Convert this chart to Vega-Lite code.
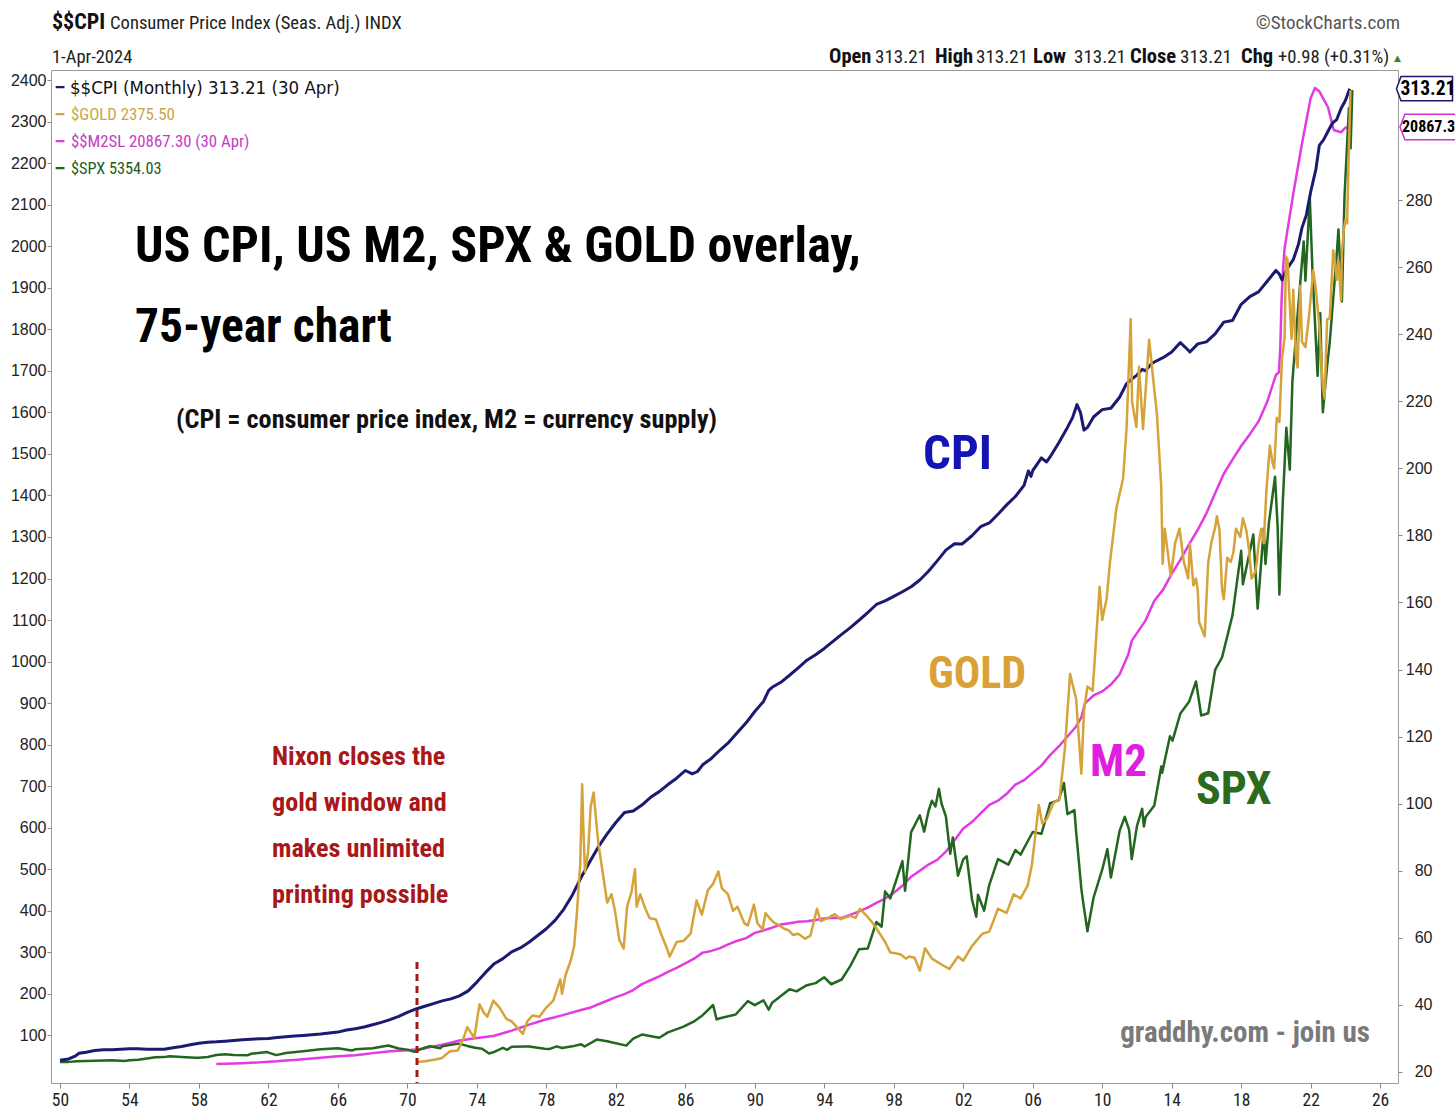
{
  "$schema": "https://vega.github.io/schema/vega-lite/v6.json",
  "width": 1347,
  "height": 1013,
  "autosize": {"type": "none"},
  "padding": {"left": 51, "top": 70, "right": 57, "bottom": 28},
  "background": "white",
  "config": {"view": {"stroke": "#9a9a9a", "strokeWidth": 1}},
  "datasets": {
    "one": [{"k": 1}],
    "cpi": [
      {"t":1950.0,"v":23.5},{"t":1950.5,"v":23.9},{"t":1950.9,"v":24.8},{"t":1951.1,"v":25.6},{"t":1951.5,"v":25.9},{"t":1952.0,"v":26.4},{"t":1952.5,"v":26.6},{"t":1953.0,"v":26.6},{"t":1953.5,"v":26.8},{"t":1954.0,"v":26.9},{"t":1954.5,"v":26.9},{"t":1955.0,"v":26.8},{"t":1955.5,"v":26.8},{"t":1956.0,"v":26.8},{"t":1956.5,"v":27.2},{"t":1957.0,"v":27.6},{"t":1957.5,"v":28.1},{"t":1958.0,"v":28.6},{"t":1958.5,"v":28.9},{"t":1959.0,"v":29.0},{"t":1959.5,"v":29.2},{"t":1960.0,"v":29.4},{"t":1960.5,"v":29.6},{"t":1961.0,"v":29.8},{"t":1961.5,"v":29.9},{"t":1962.0,"v":30.0},{"t":1962.5,"v":30.3},{"t":1963.0,"v":30.5},{"t":1963.5,"v":30.7},{"t":1964.0,"v":30.9},{"t":1964.5,"v":31.1},{"t":1965.0,"v":31.3},{"t":1965.5,"v":31.6},{"t":1966.0,"v":31.9},{"t":1966.5,"v":32.5},{"t":1967.0,"v":32.9},{"t":1967.5,"v":33.4},{"t":1968.0,"v":34.1},{"t":1968.5,"v":34.8},{"t":1969.0,"v":35.6},{"t":1969.5,"v":36.6},{"t":1970.0,"v":37.8},{"t":1970.5,"v":38.8},{"t":1971.0,"v":39.6},{"t":1971.5,"v":40.4},{"t":1972.0,"v":41.2},{"t":1972.5,"v":41.8},{"t":1973.0,"v":42.7},{"t":1973.5,"v":44.2},{"t":1974.0,"v":46.8},{"t":1974.5,"v":49.7},{"t":1975.0,"v":52.3},{"t":1975.5,"v":53.8},{"t":1976.0,"v":55.8},{"t":1976.5,"v":57.0},{"t":1977.0,"v":58.7},{"t":1977.5,"v":60.7},{"t":1978.0,"v":62.7},{"t":1978.5,"v":65.2},{"t":1979.0,"v":68.5},{"t":1979.5,"v":72.8},{"t":1980.0,"v":78.0},{"t":1980.5,"v":82.7},{"t":1981.0,"v":87.2},{"t":1981.5,"v":91.0},{"t":1982.0,"v":94.4},{"t":1982.5,"v":97.4},{"t":1983.0,"v":97.8},{"t":1983.5,"v":99.6},{"t":1984.0,"v":101.9},{"t":1984.5,"v":103.6},{"t":1985.0,"v":105.7},{"t":1985.5,"v":107.6},{"t":1986.0,"v":109.9},{"t":1986.4,"v":108.9},{"t":1986.7,"v":109.6},{"t":1987.0,"v":111.6},{"t":1987.5,"v":113.5},{"t":1988.0,"v":116.0},{"t":1988.5,"v":118.3},{"t":1989.0,"v":121.2},{"t":1989.5,"v":124.1},{"t":1990.0,"v":127.5},{"t":1990.5,"v":130.5},{"t":1990.8,"v":133.8},{"t":1991.0,"v":134.7},{"t":1991.5,"v":136.2},{"t":1992.0,"v":138.3},{"t":1992.5,"v":140.5},{"t":1993.0,"v":142.8},{"t":1993.5,"v":144.4},{"t":1994.0,"v":146.3},{"t":1994.5,"v":148.4},{"t":1995.0,"v":150.5},{"t":1995.5,"v":152.5},{"t":1996.0,"v":154.7},{"t":1996.5,"v":157.0},{"t":1997.0,"v":159.4},{"t":1997.5,"v":160.5},{"t":1998.0,"v":161.8},{"t":1998.5,"v":163.2},{"t":1999.0,"v":164.7},{"t":1999.5,"v":166.7},{"t":2000.0,"v":169.3},{"t":2000.5,"v":172.4},{"t":2001.0,"v":175.6},{"t":2001.5,"v":177.5},{"t":2001.9,"v":177.4},{"t":2002.0,"v":177.7},{"t":2002.5,"v":179.9},{"t":2003.0,"v":182.6},{"t":2003.5,"v":183.7},{"t":2004.0,"v":186.3},{"t":2004.5,"v":189.1},{"t":2005.0,"v":191.6},{"t":2005.5,"v":194.9},{"t":2005.75,"v":199.2},{"t":2005.9,"v":197.6},{"t":2006.0,"v":199.3},{"t":2006.5,"v":203.1},{"t":2006.8,"v":201.9},{"t":2007.0,"v":203.4},{"t":2007.5,"v":207.6},{"t":2008.0,"v":212.2},{"t":2008.3,"v":215.2},{"t":2008.55,"v":219.0},{"t":2008.75,"v":216.6},{"t":2008.95,"v":211.4},{"t":2009.15,"v":212.2},{"t":2009.5,"v":215.3},{"t":2010.0,"v":217.5},{"t":2010.5,"v":217.9},{"t":2011.0,"v":221.2},{"t":2011.4,"v":225.2},{"t":2011.7,"v":226.6},{"t":2012.0,"v":227.8},{"t":2012.3,"v":229.5},{"t":2012.5,"v":229.1},{"t":2012.8,"v":231.0},{"t":2013.0,"v":231.7},{"t":2013.5,"v":233.0},{"t":2014.0,"v":234.7},{"t":2014.5,"v":237.5},{"t":2014.9,"v":235.5},{"t":2015.05,"v":234.7},{"t":2015.5,"v":237.1},{"t":2016.0,"v":237.7},{"t":2016.5,"v":240.1},{"t":2017.0,"v":243.6},{"t":2017.5,"v":244.1},{"t":2018.0,"v":248.9},{"t":2018.5,"v":251.2},{"t":2019.0,"v":252.6},{"t":2019.5,"v":255.8},{"t":2020.0,"v":259.0},{"t":2020.2,"v":257.9},{"t":2020.35,"v":256.2},{"t":2020.6,"v":259.2},{"t":2021.0,"v":262.2},{"t":2021.3,"v":266.8},{"t":2021.5,"v":271.7},{"t":2021.75,"v":275.5},{"t":2022.0,"v":282.4},{"t":2022.3,"v":289.1},{"t":2022.5,"v":296.3},{"t":2022.75,"v":298.0},{"t":2023.0,"v":300.5},{"t":2023.25,"v":302.9},{"t":2023.5,"v":304.0},{"t":2023.75,"v":307.3},{"t":2024.0,"v":309.7},{"t":2024.25,"v":313.2}
    ],
    "m2": [
      {"t":1959.0,"v":286.6},{"t":1959.5,"v":294},{"t":1960.0,"v":298},{"t":1960.5,"v":304},{"t":1961.0,"v":312},{"t":1961.5,"v":322},{"t":1962.0,"v":335},{"t":1962.5,"v":346},{"t":1963.0,"v":362},{"t":1963.5,"v":376},{"t":1964.0,"v":393},{"t":1964.5,"v":407},{"t":1965.0,"v":424},{"t":1965.5,"v":440},{"t":1966.0,"v":459},{"t":1966.5,"v":470},{"t":1967.0,"v":481},{"t":1967.5,"v":503},{"t":1968.0,"v":525},{"t":1968.5,"v":546},{"t":1969.0,"v":568},{"t":1969.5,"v":580},{"t":1970.0,"v":587},{"t":1970.5,"v":604},{"t":1971.0,"v":628},{"t":1971.5,"v":673},{"t":1972.0,"v":710},{"t":1972.5,"v":755},{"t":1973.0,"v":802},{"t":1973.5,"v":830},{"t":1974.0,"v":856},{"t":1974.5,"v":880},{"t":1975.0,"v":908},{"t":1975.5,"v":962},{"t":1976.0,"v":1019},{"t":1976.5,"v":1083},{"t":1977.0,"v":1150},{"t":1977.5,"v":1210},{"t":1978.0,"v":1270},{"t":1978.5,"v":1315},{"t":1979.0,"v":1366},{"t":1979.5,"v":1420},{"t":1980.0,"v":1473},{"t":1980.5,"v":1520},{"t":1981.0,"v":1599},{"t":1981.5,"v":1675},{"t":1982.0,"v":1756},{"t":1982.5,"v":1820},{"t":1983.0,"v":1911},{"t":1983.5,"v":2040},{"t":1984.0,"v":2126},{"t":1984.5,"v":2210},{"t":1985.0,"v":2310},{"t":1985.5,"v":2400},{"t":1986.0,"v":2497},{"t":1986.5,"v":2600},{"t":1987.0,"v":2732},{"t":1987.5,"v":2770},{"t":1988.0,"v":2832},{"t":1988.5,"v":2920},{"t":1989.0,"v":2993},{"t":1989.5,"v":3050},{"t":1990.0,"v":3166},{"t":1990.5,"v":3220},{"t":1991.0,"v":3280},{"t":1991.5,"v":3350},{"t":1992.0,"v":3380},{"t":1992.5,"v":3410},{"t":1993.0,"v":3424},{"t":1993.5,"v":3450},{"t":1994.0,"v":3480},{"t":1994.5,"v":3500},{"t":1995.0,"v":3493},{"t":1995.5,"v":3560},{"t":1996.0,"v":3640},{"t":1996.5,"v":3720},{"t":1997.0,"v":3825},{"t":1997.5,"v":3920},{"t":1998.0,"v":4045},{"t":1998.5,"v":4200},{"t":1999.0,"v":4400},{"t":1999.5,"v":4530},{"t":2000.0,"v":4667},{"t":2000.5,"v":4770},{"t":2001.0,"v":4950},{"t":2001.5,"v":5200},{"t":2002.0,"v":5460},{"t":2002.5,"v":5600},{"t":2003.0,"v":5790},{"t":2003.5,"v":5980},{"t":2004.0,"v":6070},{"t":2004.5,"v":6220},{"t":2005.0,"v":6420},{"t":2005.5,"v":6520},{"t":2006.0,"v":6680},{"t":2006.5,"v":6840},{"t":2007.0,"v":7070},{"t":2007.5,"v":7260},{"t":2008.0,"v":7480},{"t":2008.5,"v":7700},{"t":2008.8,"v":7900},{"t":2009.0,"v":8200},{"t":2009.5,"v":8380},{"t":2010.0,"v":8470},{"t":2010.5,"v":8620},{"t":2011.0,"v":8840},{"t":2011.5,"v":9280},{"t":2011.7,"v":9580},{"t":2012.0,"v":9750},{"t":2012.5,"v":10030},{"t":2013.0,"v":10460},{"t":2013.5,"v":10700},{"t":2014.0,"v":11050},{"t":2014.5,"v":11360},{"t":2015.0,"v":11700},{"t":2015.5,"v":12020},{"t":2016.0,"v":12380},{"t":2016.5,"v":12820},{"t":2017.0,"v":13250},{"t":2017.5,"v":13560},{"t":2018.0,"v":13860},{"t":2018.5,"v":14120},{"t":2019.0,"v":14400},{"t":2019.5,"v":14830},{"t":2020.0,"v":15420},{"t":2020.17,"v":15480},{"t":2020.25,"v":16000},{"t":2020.33,"v":17100},{"t":2020.42,"v":17800},{"t":2020.5,"v":18200},{"t":2021.0,"v":19400},{"t":2021.5,"v":20500},{"t":2022.0,"v":21500},{"t":2022.25,"v":21720},{"t":2022.5,"v":21650},{"t":2023.0,"v":21300},{"t":2023.33,"v":20800},{"t":2023.75,"v":20750},{"t":2024.0,"v":20850},{"t":2024.29,"v":20867}
    ],
    "spx": [
      {"t":1950.0,"v":17.0},{"t":1950.5,"v":17.7},{"t":1951.0,"v":21.7},{"t":1952.0,"v":24.1},{"t":1953.0,"v":26.4},{"t":1953.7,"v":23.0},{"t":1954.0,"v":26.1},{"t":1954.5,"v":29},{"t":1955.0,"v":36.6},{"t":1955.5,"v":43},{"t":1956.0,"v":43.8},{"t":1956.3,"v":48},{"t":1957.0,"v":44},{"t":1957.8,"v":40},{"t":1958.0,"v":41},{"t":1958.5,"v":45},{"t":1959.0,"v":55.4},{"t":1959.5,"v":59},{"t":1960.0,"v":55.6},{"t":1960.8,"v":54},{"t":1961.0,"v":61.8},{"t":1961.9,"v":71.6},{"t":1962.0,"v":68.8},{"t":1962.45,"v":54.8},{"t":1963.0,"v":66.2},{"t":1964.0,"v":76.5},{"t":1965.0,"v":87.6},{"t":1966.0,"v":92.9},{"t":1966.8,"v":80},{"t":1967.0,"v":86.6},{"t":1968.0,"v":92.2},{"t":1968.9,"v":108},{"t":1969.5,"v":91},{"t":1970.0,"v":85},{"t":1970.4,"v":72.7},{"t":1971.0,"v":95.9},{"t":1971.3,"v":104},{"t":1971.9,"v":93},{"t":1972.0,"v":103},{"t":1972.95,"v":118},{"t":1973.5,"v":104},{"t":1973.9,"v":95},{"t":1974.3,"v":90},{"t":1974.7,"v":64},{"t":1975.0,"v":72.6},{"t":1975.5,"v":95},{"t":1975.75,"v":83.9},{"t":1976.0,"v":100.9},{"t":1976.8,"v":102},{"t":1977.0,"v":102},{"t":1977.9,"v":90},{"t":1978.2,"v":89},{"t":1978.6,"v":103},{"t":1978.9,"v":94},{"t":1979.5,"v":103},{"t":1980.0,"v":114},{"t":1980.2,"v":102},{"t":1980.9,"v":140},{"t":1981.5,"v":131},{"t":1982.6,"v":107},{"t":1983.0,"v":145},{"t":1983.5,"v":168},{"t":1984.5,"v":150},{"t":1985.0,"v":180},{"t":1985.9,"v":211},{"t":1986.5,"v":240},{"t":1987.0,"v":274},{"t":1987.6,"v":330},{"t":1987.8,"v":251},{"t":1988.0,"v":257},{"t":1988.9,"v":278},{"t":1989.6,"v":351},{"t":1990.0,"v":329},{"t":1990.5,"v":356},{"t":1990.8,"v":304},{"t":1991.0,"v":343},{"t":1991.5,"v":380},{"t":1992.0,"v":417},{"t":1992.4,"v":405},{"t":1993.0,"v":439},{"t":1993.5,"v":450},{"t":1994.0,"v":482},{"t":1994.4,"v":444},{"t":1995.0,"v":470},{"t":1995.5,"v":545},{"t":1996.0,"v":636},{"t":1996.5,"v":640},{"t":1997.0,"v":786},{"t":1997.3,"v":760},{"t":1997.5,"v":954},{"t":1997.8,"v":915},{"t":1998.5,"v":1120},{"t":1998.65,"v":957},{"t":1999.0,"v":1279},{"t":1999.5,"v":1372},{"t":1999.75,"v":1282},{"t":2000.0,"v":1394},{"t":2000.2,"v":1452},{"t":2000.4,"v":1420},{"t":2000.6,"v":1517},{"t":2000.75,"v":1436},{"t":2001.0,"v":1366},{"t":2001.25,"v":1160},{"t":2001.4,"v":1250},{"t":2001.7,"v":1040},{"t":2002.0,"v":1130},{"t":2002.2,"v":1147},{"t":2002.5,"v":911},{"t":2002.75,"v":815},{"t":2002.85,"v":936},{"t":2003.2,"v":848},{"t":2003.5,"v":990},{"t":2004.0,"v":1131},{"t":2004.6,"v":1101},{"t":2005.0,"v":1181},{"t":2005.3,"v":1156},{"t":2006.0,"v":1280},{"t":2006.5,"v":1270},{"t":2007.0,"v":1438},{"t":2007.5,"v":1455},{"t":2007.8,"v":1549},{"t":2008.0,"v":1378},{"t":2008.4,"v":1400},{"t":2008.5,"v":1280},{"t":2008.8,"v":968},{"t":2008.9,"v":896},{"t":2009.15,"v":735},{"t":2009.5,"v":919},{"t":2010.0,"v":1073},{"t":2010.3,"v":1186},{"t":2010.5,"v":1030},{"t":2011.0,"v":1286},{"t":2011.3,"v":1363},{"t":2011.55,"v":1292},{"t":2011.7,"v":1131},{"t":2012.0,"v":1312},{"t":2012.3,"v":1408},{"t":2012.4,"v":1310},{"t":2012.5,"v":1362},{"t":2013.0,"v":1426},{"t":2013.4,"v":1640},{"t":2013.45,"v":1606},{"t":2013.9,"v":1806},{"t":2014.05,"v":1782},{"t":2014.5,"v":1931},{"t":2015.0,"v":1995},{"t":2015.4,"v":2107},{"t":2015.7,"v":1920},{"t":2016.1,"v":1932},{"t":2016.5,"v":2170},{"t":2016.9,"v":2239},{"t":2017.5,"v":2470},{"t":2018.0,"v":2824},{"t":2018.1,"v":2640},{"t":2018.7,"v":2914},{"t":2018.95,"v":2507},{"t":2019.3,"v":2945},{"t":2019.4,"v":2752},{"t":2019.6,"v":2980},{"t":2019.95,"v":3231},{"t":2020.1,"v":2954},{"t":2020.2,"v":2584},{"t":2020.4,"v":3100},{"t":2020.6,"v":3500},{"t":2020.8,"v":3270},{"t":2020.95,"v":3756},{"t":2021.3,"v":4180},{"t":2021.6,"v":4523},{"t":2021.7,"v":4307},{"t":2021.95,"v":4766},{"t":2022.1,"v":4374},{"t":2022.4,"v":3785},{"t":2022.55,"v":4130},{"t":2022.7,"v":3585},{"t":2022.95,"v":3840},{"t":2023.1,"v":3970},{"t":2023.5,"v":4450},{"t":2023.6,"v":4589},{"t":2023.8,"v":4194},{"t":2023.95,"v":4770},{"t":2024.2,"v":5254},{"t":2024.3,"v":5035},{"t":2024.4,"v":5354}
    ],
    "gold": [
      {"t":1970.5,"v":36},{"t":1971.0,"v":38},{"t":1971.6,"v":42},{"t":1972.0,"v":46},{"t":1972.45,"v":62},{"t":1972.9,"v":64},{"t":1973.2,"v":90},{"t":1973.45,"v":120},{"t":1973.85,"v":94},{"t":1974.15,"v":175},{"t":1974.4,"v":155},{"t":1974.6,"v":145},{"t":1974.95,"v":184},{"t":1975.3,"v":167},{"t":1975.7,"v":140},{"t":1976.0,"v":134},{"t":1976.65,"v":104},{"t":1976.9,"v":134},{"t":1977.2,"v":148},{"t":1977.6,"v":145},{"t":1977.95,"v":165},{"t":1978.4,"v":184},{"t":1978.8,"v":235},{"t":1978.9,"v":200},{"t":1979.1,"v":245},{"t":1979.4,"v":280},{"t":1979.6,"v":315},{"t":1979.75,"v":390},{"t":1979.95,"v":512},{"t":1980.06,"v":705},{"t":1980.13,"v":600},{"t":1980.22,"v":494},{"t":1980.4,"v":540},{"t":1980.55,"v":650},{"t":1980.72,"v":685},{"t":1980.85,"v":625},{"t":1981.0,"v":560},{"t":1981.2,"v":505},{"t":1981.5,"v":420},{"t":1981.75,"v":440},{"t":1981.95,"v":400},{"t":1982.2,"v":330},{"t":1982.45,"v":309},{"t":1982.65,"v":410},{"t":1982.9,"v":445},{"t":1983.1,"v":500},{"t":1983.2,"v":410},{"t":1983.4,"v":440},{"t":1983.7,"v":405},{"t":1983.95,"v":382},{"t":1984.3,"v":380},{"t":1984.6,"v":345},{"t":1984.95,"v":309},{"t":1985.1,"v":290},{"t":1985.5,"v":325},{"t":1985.9,"v":328},{"t":1986.3,"v":345},{"t":1986.65,"v":425},{"t":1986.95,"v":391},{"t":1987.3,"v":450},{"t":1987.6,"v":465},{"t":1987.9,"v":495},{"t":1988.1,"v":455},{"t":1988.45,"v":440},{"t":1988.75,"v":400},{"t":1989.0,"v":410},{"t":1989.4,"v":370},{"t":1989.6,"v":365},{"t":1989.95,"v":415},{"t":1990.15,"v":370},{"t":1990.45,"v":355},{"t":1990.62,"v":395},{"t":1990.9,"v":380},{"t":1991.1,"v":372},{"t":1991.4,"v":365},{"t":1991.7,"v":357},{"t":1991.95,"v":353},{"t":1992.2,"v":342},{"t":1992.5,"v":345},{"t":1992.9,"v":333},{"t":1993.2,"v":340},{"t":1993.58,"v":405},{"t":1993.8,"v":375},{"t":1994.3,"v":385},{"t":1994.6,"v":392},{"t":1994.95,"v":380},{"t":1995.2,"v":384},{"t":1995.5,"v":388},{"t":1995.8,"v":383},{"t":1996.05,"v":405},{"t":1996.4,"v":390},{"t":1996.8,"v":370},{"t":1997.2,"v":345},{"t":1997.5,"v":325},{"t":1997.8,"v":300},{"t":1998.1,"v":298},{"t":1998.4,"v":295},{"t":1998.7,"v":285},{"t":1998.9,"v":290},{"t":1999.2,"v":287},{"t":1999.5,"v":256},{"t":1999.8,"v":310},{"t":2000.2,"v":285},{"t":2000.7,"v":272},{"t":2001.2,"v":260},{"t":2001.7,"v":290},{"t":2002.0,"v":280},{"t":2002.5,"v":315},{"t":2003.1,"v":345},{"t":2003.5,"v":350},{"t":2004.0,"v":405},{"t":2004.5,"v":395},{"t":2004.9,"v":440},{"t":2005.3,"v":430},{"t":2005.7,"v":460},{"t":2005.95,"v":510},{"t":2006.35,"v":655},{"t":2006.55,"v":610},{"t":2006.8,"v":620},{"t":2007.2,"v":660},{"t":2007.55,"v":670},{"t":2007.85,"v":790},{"t":2008.15,"v":970},{"t":2008.5,"v":910},{"t":2008.8,"v":730},{"t":2008.95,"v":880},{"t":2009.15,"v":940},{"t":2009.45,"v":930},{"t":2009.85,"v":1180},{"t":2010.0,"v":1100},{"t":2010.25,"v":1150},{"t":2010.45,"v":1240},{"t":2010.82,"v":1370},{"t":2011.2,"v":1440},{"t":2011.4,"v":1560},{"t":2011.64,"v":1825},{"t":2011.72,"v":1625},{"t":2011.97,"v":1565},{"t":2012.12,"v":1710},{"t":2012.35,"v":1560},{"t":2012.7,"v":1775},{"t":2012.95,"v":1675},{"t":2013.15,"v":1595},{"t":2013.4,"v":1420},{"t":2013.48,"v":1235},{"t":2013.6,"v":1320},{"t":2013.95,"v":1205},{"t":2014.2,"v":1285},{"t":2014.45,"v":1320},{"t":2014.7,"v":1240},{"t":2014.95,"v":1200},{"t":2015.05,"v":1283},{"t":2015.25,"v":1183},{"t":2015.4,"v":1200},{"t":2015.5,"v":1172},{"t":2015.58,"v":1095},{"t":2015.9,"v":1061},{"t":2016.1,"v":1237},{"t":2016.3,"v":1290},{"t":2016.5,"v":1322},{"t":2016.6,"v":1350},{"t":2016.75,"v":1318},{"t":2016.9,"v":1173},{"t":2017.0,"v":1150},{"t":2017.2,"v":1250},{"t":2017.4,"v":1240},{"t":2017.55,"v":1262},{"t":2017.7,"v":1320},{"t":2017.95,"v":1300},{"t":2018.1,"v":1345},{"t":2018.3,"v":1315},{"t":2018.45,"v":1270},{"t":2018.6,"v":1200},{"t":2018.8,"v":1215},{"t":2018.9,"v":1240},{"t":2019.0,"v":1282},{"t":2019.15,"v":1320},{"t":2019.3,"v":1285},{"t":2019.45,"v":1410},{"t":2019.65,"v":1520},{"t":2019.8,"v":1480},{"t":2019.9,"v":1465},{"t":2020.05,"v":1587},{"t":2020.2,"v":1577},{"t":2020.35,"v":1730},{"t":2020.5,"v":1780},{"t":2020.58,"v":1975},{"t":2020.67,"v":1968},{"t":2020.9,"v":1777},{"t":2021.0,"v":1895},{"t":2021.15,"v":1733},{"t":2021.25,"v":1708},{"t":2021.4,"v":1905},{"t":2021.5,"v":1770},{"t":2021.7,"v":1757},{"t":2021.9,"v":1829},{"t":2022.15,"v":1942},{"t":2022.3,"v":1897},{"t":2022.5,"v":1807},{"t":2022.7,"v":1660},{"t":2022.8,"v":1633},{"t":2022.95,"v":1824},{"t":2023.1,"v":1827},{"t":2023.3,"v":1990},{"t":2023.4,"v":1963},{"t":2023.5,"v":1919},{"t":2023.6,"v":1965},{"t":2023.75,"v":1870},{"t":2023.8,"v":1983},{"t":2023.9,"v":2036},{"t":2024.0,"v":2063},{"t":2024.1,"v":2055},{"t":2024.2,"v":2230},{"t":2024.29,"v":2375}
    ]
  },
  "layer": [
    {
      "data": {"name": "m2"},
      "mark": {"type": "line", "color": "#e23be2", "strokeWidth": 2.5, "strokeJoin": "round"},
      "encoding": {
        "x": {"field": "t", "type": "quantitative", "scale": {"domain": [1949.482, 2027.029], "nice": false, "zero": false},
          "axis": {"values": [1950,1952,1954,1956,1958,1960,1962,1964,1966,1968,1970,1972,1974,1976,1978,1980,1982,1984,1986,1988,1990,1992,1994,1996,1998,2000,2002,2004,2006,2008,2010,2012,2014,2016,2018,2020,2022,2024,2026],
            "format": "d", "labelExpr": "substring(datum.label, 2)", "title": null, "grid": false, "domain": false, "tickSize": 5, "tickColor": "#888888",
            "labelFont": "Roboto Condensed, DejaVu Sans Condensed, sans-serif", "labelFontSize": 17.5, "labelColor": "#222222", "labelPadding": 3}},
        "y": {"field": "v", "type": "quantitative", "scale": {"domain": [-131, 22118], "nice": false, "zero": false}, "axis": null}
      }
    },
    {
      "data": {"name": "spx"},
      "mark": {"type": "line", "color": "#22661f", "strokeWidth": 2.5, "strokeJoin": "round"},
      "encoding": {
        "x": {"field": "t", "type": "quantitative"},
        "y": {"field": "v", "type": "quantitative", "scale": {"domain": [-98.3, 5464.6], "nice": false, "zero": false}, "axis": null}
      }
    },
    {
      "data": {"name": "cpi"},
      "mark": {"type": "line", "color": "#1a1a70", "strokeWidth": 3, "strokeJoin": "round"},
      "encoding": {
        "x": {"field": "t", "type": "quantitative"},
        "y": {"field": "v", "type": "quantitative", "scale": {"domain": [16.72, 318.77], "nice": false, "zero": false},
          "axis": {"orient": "right", "values": [20,40,60,80,100,120,140,160,180,200,220,240,260,280], "format": "d", "title": null, "grid": false, "domain": false, "tickSize": 4, "tickColor": "#888888", "labelFont": "Liberation Sans, Arial, sans-serif", "labelFontSize": 16, "labelColor": "#222222", "labelAlign": "right", "labelPadding": 30}}
      }
    },
    {
      "data": {"name": "gold"},
      "mark": {"type": "line", "color": "#d6a23a", "strokeWidth": 2.5, "strokeJoin": "round"},
      "encoding": {
        "x": {"field": "t", "type": "quantitative"},
        "y": {"field": "v", "type": "quantitative", "scale": {"domain": [-14.4, 2424.2], "nice": false, "zero": false},
          "axis": {"orient": "left", "values": [100,200,300,400,500,600,700,800,900,1000,1100,1200,1300,1400,1500,1600,1700,1800,1900,2000,2100,2200,2300,2400], "format": "d", "title": null, "grid": false, "domain": false, "tickSize": 4, "tickColor": "#888888", "labelFont": "Liberation Sans, Arial, sans-serif", "labelFontSize": 16, "labelColor": "#222222", "labelPadding": 1}}
      }
    },
    {
      "data": {"name": "one"},
      "mark": {"type": "point", "shape": "M -1 0 L -0.84 -0.41 L 1 -0.41 L 1 0.41 L -0.84 0.41 Z", "size": 3844, "filled": true, "fill": "#ffffff", "stroke": "#d030d0", "strokeWidth": 1.5, "opacity": 1, "clip": false},
      "encoding": {"x": {"datum": 2028.929}, "y": {"datum": 20867.3, "scale": {"domain": [-131, 22118], "nice": false, "zero": false}, "axis": null}}
    },
    {
      "data": {"name": "one"},
      "mark": {"type": "text", "text": "20867.3", "align": "left", "baseline": "middle", "font": "Roboto Condensed, Liberation Sans, sans-serif", "fontSize": 16, "fontWeight": "bold", "color": "#000000", "clip": false},
      "encoding": {"x": {"datum": 2027.26}, "y": {"datum": 20867.3, "scale": {"domain": [-131, 22118], "nice": false, "zero": false}, "axis": null}}
    },
    {
      "data": {"name": "one"},
      "mark": {"type": "point", "shape": "M -1 0 L -0.84 -0.43 L 1 -0.43 L 1 0.43 L -0.84 0.43 Z", "size": 3136, "filled": true, "fill": "#ffffff", "stroke": "#1a1a70", "strokeWidth": 1.5, "opacity": 1, "clip": false},
      "encoding": {"x": {"datum": 2028.555}, "y": {"datum": 313.21, "scale": {"domain": [16.72, 318.77], "nice": false, "zero": false}, "axis": null}}
    },
    {
      "data": {"name": "one"},
      "mark": {"type": "text", "text": "313.21", "align": "center", "baseline": "middle", "font": "Roboto Condensed, Liberation Sans, sans-serif", "fontSize": 19.5, "fontWeight": "bold", "color": "#000000", "clip": false},
      "encoding": {"x": {"datum": 2028.75}, "y": {"datum": 313.21, "scale": {"domain": [16.72, 318.77], "nice": false, "zero": false}, "axis": null}}
    },
    {
      "data": {"name": "one"},
      "mark": {"type": "rule", "color": "#a01c1c", "strokeWidth": 3, "strokeDash": [7, 5]},
      "encoding": {"x": {"datum": 1970.553}, "y": {"datum": 276.8, "scale": {"domain": [-14.4, 2424.2], "nice": false, "zero": false}, "axis": null}, "y2": {"datum": -14.4}}
    },
    {
      "data": {"name": "one"},
      "mark": {"type": "text", "text": "$$CPI", "align": "left", "baseline": "middle", "font": "Roboto Condensed, Liberation Sans, sans-serif", "fontSize": 22, "fontWeight": "bold", "color": "#111111", "clip": false},
      "encoding": {"x": {"datum": 1949.539}, "y": {"datum": 2539.7, "scale": {"domain": [-14.4, 2424.2], "nice": false, "zero": false}, "axis": null}}
    },
    {
      "data": {"name": "one"},
      "mark": {"type": "text", "text": "Consumer Price Index (Seas. Adj.) INDX", "align": "left", "baseline": "middle", "font": "Roboto Condensed, Liberation Sans, sans-serif", "fontSize": 18.6, "color": "#222222", "clip": false},
      "encoding": {"x": {"datum": 1952.879}, "y": {"datum": 2537, "scale": {"domain": [-14.4, 2424.2], "nice": false, "zero": false}, "axis": null}}
    },
    {
      "data": {"name": "one"},
      "mark": {"type": "text", "text": "©StockCharts.com", "align": "right", "baseline": "middle", "font": "Roboto Condensed, Liberation Sans, sans-serif", "fontSize": 19, "color": "#555555", "clip": false},
      "encoding": {"x": {"datum": 2027.145}, "y": {"datum": 2537, "scale": {"domain": [-14.4, 2424.2], "nice": false, "zero": false}, "axis": null}}
    },
    {
      "data": {"name": "one"},
      "mark": {"type": "text", "text": "1-Apr-2024", "align": "left", "baseline": "middle", "font": "Roboto Condensed, Liberation Sans, sans-serif", "fontSize": 18.5, "color": "#222222", "clip": false},
      "encoding": {"x": {"datum": 1949.539}, "y": {"datum": 2455.5, "scale": {"domain": [-14.4, 2424.2], "nice": false, "zero": false}, "axis": null}}
    },
    {
      "data": {"name": "one"},
      "mark": {"type": "text", "text": "Open", "align": "left", "baseline": "middle", "font": "Roboto Condensed, Liberation Sans, sans-serif", "fontSize": 20.5, "fontWeight": "bold", "color": "#111111", "clip": false},
      "encoding": {"x": {"datum": 1994.272}, "y": {"datum": 2455.5, "scale": {"domain": [-14.4, 2424.2], "nice": false, "zero": false}, "axis": null}}
    },
    {
      "data": {"name": "one"},
      "mark": {"type": "text", "text": "313.21", "align": "left", "baseline": "middle", "font": "Roboto Condensed, Liberation Sans, sans-serif", "fontSize": 19, "color": "#222222", "clip": false},
      "encoding": {"x": {"datum": 1996.92}, "y": {"datum": 2455.5, "scale": {"domain": [-14.4, 2424.2], "nice": false, "zero": false}, "axis": null}}
    },
    {
      "data": {"name": "one"},
      "mark": {"type": "text", "text": "High", "align": "left", "baseline": "middle", "font": "Roboto Condensed, Liberation Sans, sans-serif", "fontSize": 20.5, "fontWeight": "bold", "color": "#111111", "clip": false},
      "encoding": {"x": {"datum": 2000.374}, "y": {"datum": 2455.5, "scale": {"domain": [-14.4, 2424.2], "nice": false, "zero": false}, "axis": null}}
    },
    {
      "data": {"name": "one"},
      "mark": {"type": "text", "text": "313.21", "align": "left", "baseline": "middle", "font": "Roboto Condensed, Liberation Sans, sans-serif", "fontSize": 19, "color": "#222222", "clip": false},
      "encoding": {"x": {"datum": 2002.735}, "y": {"datum": 2455.5, "scale": {"domain": [-14.4, 2424.2], "nice": false, "zero": false}, "axis": null}}
    },
    {
      "data": {"name": "one"},
      "mark": {"type": "text", "text": "Low", "align": "left", "baseline": "middle", "font": "Roboto Condensed, Liberation Sans, sans-serif", "fontSize": 20.5, "fontWeight": "bold", "color": "#111111", "clip": false},
      "encoding": {"x": {"datum": 2006.02}, "y": {"datum": 2455.5, "scale": {"domain": [-14.4, 2424.2], "nice": false, "zero": false}, "axis": null}}
    },
    {
      "data": {"name": "one"},
      "mark": {"type": "text", "text": "313.21", "align": "left", "baseline": "middle", "font": "Roboto Condensed, Liberation Sans, sans-serif", "fontSize": 19, "color": "#222222", "clip": false},
      "encoding": {"x": {"datum": 2008.377}, "y": {"datum": 2455.5, "scale": {"domain": [-14.4, 2424.2], "nice": false, "zero": false}, "axis": null}}
    },
    {
      "data": {"name": "one"},
      "mark": {"type": "text", "text": "Close", "align": "left", "baseline": "middle", "font": "Roboto Condensed, Liberation Sans, sans-serif", "fontSize": 20.5, "fontWeight": "bold", "color": "#111111", "clip": false},
      "encoding": {"x": {"datum": 2011.6}, "y": {"datum": 2455.5, "scale": {"domain": [-14.4, 2424.2], "nice": false, "zero": false}, "axis": null}}
    },
    {
      "data": {"name": "one"},
      "mark": {"type": "text", "text": "313.21", "align": "left", "baseline": "middle", "font": "Roboto Condensed, Liberation Sans, sans-serif", "fontSize": 19, "color": "#222222", "clip": false},
      "encoding": {"x": {"datum": 2014.479}, "y": {"datum": 2455.5, "scale": {"domain": [-14.4, 2424.2], "nice": false, "zero": false}, "axis": null}}
    },
    {
      "data": {"name": "one"},
      "mark": {"type": "text", "text": "Chg", "align": "left", "baseline": "middle", "font": "Roboto Condensed, Liberation Sans, sans-serif", "fontSize": 20.5, "fontWeight": "bold", "color": "#111111", "clip": false},
      "encoding": {"x": {"datum": 2017.991}, "y": {"datum": 2455.5, "scale": {"domain": [-14.4, 2424.2], "nice": false, "zero": false}, "axis": null}}
    },
    {
      "data": {"name": "one"},
      "mark": {"type": "text", "text": "+0.98 (+0.31%)", "align": "left", "baseline": "middle", "font": "Roboto Condensed, Liberation Sans, sans-serif", "fontSize": 18.6, "color": "#222222", "clip": false},
      "encoding": {"x": {"datum": 2020.121}, "y": {"datum": 2455.5, "scale": {"domain": [-14.4, 2424.2], "nice": false, "zero": false}, "axis": null}}
    },
    {
      "data": {"name": "one"},
      "mark": {"type": "text", "text": "▲", "align": "left", "baseline": "middle", "font": "DejaVu Sans", "fontSize": 9, "color": "#2e8b2e", "clip": false},
      "encoding": {"x": {"datum": 2026.8}, "y": {"datum": 2452, "scale": {"domain": [-14.4, 2424.2], "nice": false, "zero": false}, "axis": null}}
    },
    {
      "data": {"name": "one"},
      "mark": {"type": "text", "text": "━", "align": "center", "baseline": "middle", "font": "DejaVu Sans Mono", "fontSize": 14, "color": "#1a1a70", "clip": false},
      "encoding": {"x": {"datum": 1950.0}, "y": {"datum": 2380.8, "scale": {"domain": [-14.4, 2424.2], "nice": false, "zero": false}, "axis": null}}
    },
    {
      "data": {"name": "one"},
      "mark": {"type": "text", "text": "$$CPI (Monthly) 313.21 (30 Apr)", "align": "left", "baseline": "middle", "font": "DejaVu Sans Condensed, sans-serif", "fontSize": 18.5, "color": "#111111", "clip": false},
      "encoding": {"x": {"datum": 1950.576}, "y": {"datum": 2380.8, "scale": {"domain": [-14.4, 2424.2], "nice": false, "zero": false}, "axis": null}}
    },
    {
      "data": {"name": "one"},
      "mark": {"type": "text", "text": "━", "align": "center", "baseline": "middle", "font": "DejaVu Sans Mono", "fontSize": 14, "color": "#d6a23a", "clip": false},
      "encoding": {"x": {"datum": 1950.0}, "y": {"datum": 2315.8, "scale": {"domain": [-14.4, 2424.2], "nice": false, "zero": false}, "axis": null}}
    },
    {
      "data": {"name": "one"},
      "mark": {"type": "text", "text": "$GOLD 2375.50", "align": "left", "baseline": "middle", "font": "Roboto Condensed, Liberation Sans, sans-serif", "fontSize": 16.8, "color": "#c9a64a", "clip": false},
      "encoding": {"x": {"datum": 1950.633}, "y": {"datum": 2315.8, "scale": {"domain": [-14.4, 2424.2], "nice": false, "zero": false}, "axis": null}}
    },
    {
      "data": {"name": "one"},
      "mark": {"type": "text", "text": "━", "align": "center", "baseline": "middle", "font": "DejaVu Sans Mono", "fontSize": 14, "color": "#e23be2", "clip": false},
      "encoding": {"x": {"datum": 1950.0}, "y": {"datum": 2250.8, "scale": {"domain": [-14.4, 2424.2], "nice": false, "zero": false}, "axis": null}}
    },
    {
      "data": {"name": "one"},
      "mark": {"type": "text", "text": "$$M2SL 20867.30 (30 Apr)", "align": "left", "baseline": "middle", "font": "Roboto Condensed, Liberation Sans, sans-serif", "fontSize": 16.8, "color": "#c43cc4", "clip": false},
      "encoding": {"x": {"datum": 1950.633}, "y": {"datum": 2250.8, "scale": {"domain": [-14.4, 2424.2], "nice": false, "zero": false}, "axis": null}}
    },
    {
      "data": {"name": "one"},
      "mark": {"type": "text", "text": "━", "align": "center", "baseline": "middle", "font": "DejaVu Sans Mono", "fontSize": 14, "color": "#22661f", "clip": false},
      "encoding": {"x": {"datum": 1950.0}, "y": {"datum": 2185.8, "scale": {"domain": [-14.4, 2424.2], "nice": false, "zero": false}, "axis": null}}
    },
    {
      "data": {"name": "one"},
      "mark": {"type": "text", "text": "$SPX 5354.03", "align": "left", "baseline": "middle", "font": "Roboto Condensed, Liberation Sans, sans-serif", "fontSize": 16.3, "color": "#1d5c1d", "clip": false},
      "encoding": {"x": {"datum": 1950.633}, "y": {"datum": 2185.8, "scale": {"domain": [-14.4, 2424.2], "nice": false, "zero": false}, "axis": null}}
    },
    {
      "data": {"name": "one"},
      "mark": {"type": "text", "text": "US CPI, US M2, SPX & GOLD overlay,", "align": "left", "baseline": "alphabetic", "font": "Roboto Condensed, Liberation Sans, sans-serif", "fontSize": 50, "fontWeight": "bold", "color": "#000000", "clip": false},
      "encoding": {"x": {"datum": 1954.318}, "y": {"datum": 1961.5, "scale": {"domain": [-14.4, 2424.2], "nice": false, "zero": false}, "axis": null}}
    },
    {
      "data": {"name": "one"},
      "mark": {"type": "text", "text": "75-year chart", "align": "left", "baseline": "alphabetic", "font": "Roboto Condensed, Liberation Sans, sans-serif", "fontSize": 47.5, "fontWeight": "bold", "color": "#000000", "clip": false},
      "encoding": {"x": {"datum": 1954.318}, "y": {"datum": 1769.4, "scale": {"domain": [-14.4, 2424.2], "nice": false, "zero": false}, "axis": null}}
    },
    {
      "data": {"name": "one"},
      "mark": {"type": "text", "text": "(CPI = consumer price index, M2 = currency supply)", "align": "left", "baseline": "alphabetic", "font": "Roboto Condensed, Liberation Sans, sans-serif", "fontSize": 26.2, "fontWeight": "bold", "color": "#111111", "clip": false},
      "encoding": {"x": {"datum": 1956.678}, "y": {"datum": 1562.4, "scale": {"domain": [-14.4, 2424.2], "nice": false, "zero": false}, "axis": null}}
    },
    {
      "data": {"name": "one"},
      "mark": {"type": "text", "text": "CPI", "align": "left", "baseline": "alphabetic", "font": "Roboto Condensed, Liberation Sans, sans-serif", "fontSize": 49, "fontWeight": "bold", "color": "#1414b4", "clip": false},
      "encoding": {"x": {"datum": 1999.683}, "y": {"datum": 1463.6, "scale": {"domain": [-14.4, 2424.2], "nice": false, "zero": false}, "axis": null}}
    },
    {
      "data": {"name": "one"},
      "mark": {"type": "text", "text": "GOLD", "align": "left", "baseline": "alphabetic", "font": "Roboto Condensed, Liberation Sans, sans-serif", "fontSize": 44, "fontWeight": "bold", "color": "#daa236", "clip": false},
      "encoding": {"x": {"datum": 1999.971}, "y": {"datum": 936.4, "scale": {"domain": [-14.4, 2424.2], "nice": false, "zero": false}, "axis": null}}
    },
    {
      "data": {"name": "one"},
      "mark": {"type": "text", "text": "M2", "align": "left", "baseline": "alphabetic", "font": "Roboto Condensed, Liberation Sans, sans-serif", "fontSize": 45, "fontWeight": "bold", "color": "#e01ee0", "clip": false},
      "encoding": {"x": {"datum": 2009.298}, "y": {"datum": 724.6, "scale": {"domain": [-14.4, 2424.2], "nice": false, "zero": false}, "axis": null}}
    },
    {
      "data": {"name": "one"},
      "mark": {"type": "text", "text": "SPX", "align": "left", "baseline": "alphabetic", "font": "Roboto Condensed, Liberation Sans, sans-serif", "fontSize": 46, "fontWeight": "bold", "color": "#2c6a1c", "clip": false},
      "encoding": {"x": {"datum": 2015.4}, "y": {"datum": 657.2, "scale": {"domain": [-14.4, 2424.2], "nice": false, "zero": false}, "axis": null}}
    },
    {
      "data": {"name": "one"},
      "mark": {"type": "text", "text": "Nixon closes the", "align": "left", "baseline": "middle", "font": "Roboto Condensed, Liberation Sans, sans-serif", "fontSize": 26.2, "fontWeight": "bold", "color": "#a81818", "clip": false},
      "encoding": {"x": {"datum": 1962.205}, "y": {"datum": 770.3, "scale": {"domain": [-14.4, 2424.2], "nice": false, "zero": false}, "axis": null}}
    },
    {
      "data": {"name": "one"},
      "mark": {"type": "text", "text": "gold window and", "align": "left", "baseline": "middle", "font": "Roboto Condensed, Liberation Sans, sans-serif", "fontSize": 26.2, "fontWeight": "bold", "color": "#a81818", "clip": false},
      "encoding": {"x": {"datum": 1962.205}, "y": {"datum": 659.6, "scale": {"domain": [-14.4, 2424.2], "nice": false, "zero": false}, "axis": null}}
    },
    {
      "data": {"name": "one"},
      "mark": {"type": "text", "text": "makes unlimited", "align": "left", "baseline": "middle", "font": "Roboto Condensed, Liberation Sans, sans-serif", "fontSize": 26.2, "fontWeight": "bold", "color": "#a81818", "clip": false},
      "encoding": {"x": {"datum": 1962.205}, "y": {"datum": 548.9, "scale": {"domain": [-14.4, 2424.2], "nice": false, "zero": false}, "axis": null}}
    },
    {
      "data": {"name": "one"},
      "mark": {"type": "text", "text": "printing possible", "align": "left", "baseline": "middle", "font": "Roboto Condensed, Liberation Sans, sans-serif", "fontSize": 26.2, "fontWeight": "bold", "color": "#a81818", "clip": false},
      "encoding": {"x": {"datum": 1962.205}, "y": {"datum": 438.1, "scale": {"domain": [-14.4, 2424.2], "nice": false, "zero": false}, "axis": null}}
    },
    {
      "data": {"name": "one"},
      "mark": {"type": "text", "text": "graddhy.com - join us", "align": "right", "baseline": "middle", "font": "Roboto Condensed, Liberation Sans, sans-serif", "fontSize": 29, "fontWeight": "bold", "color": "#7a7a7a", "clip": false},
      "encoding": {"x": {"datum": 2025.417}, "y": {"datum": 105.9, "scale": {"domain": [-14.4, 2424.2], "nice": false, "zero": false}, "axis": null}}
    }
  ],
  "resolve": {"scale": {"y": "independent"}}
}
